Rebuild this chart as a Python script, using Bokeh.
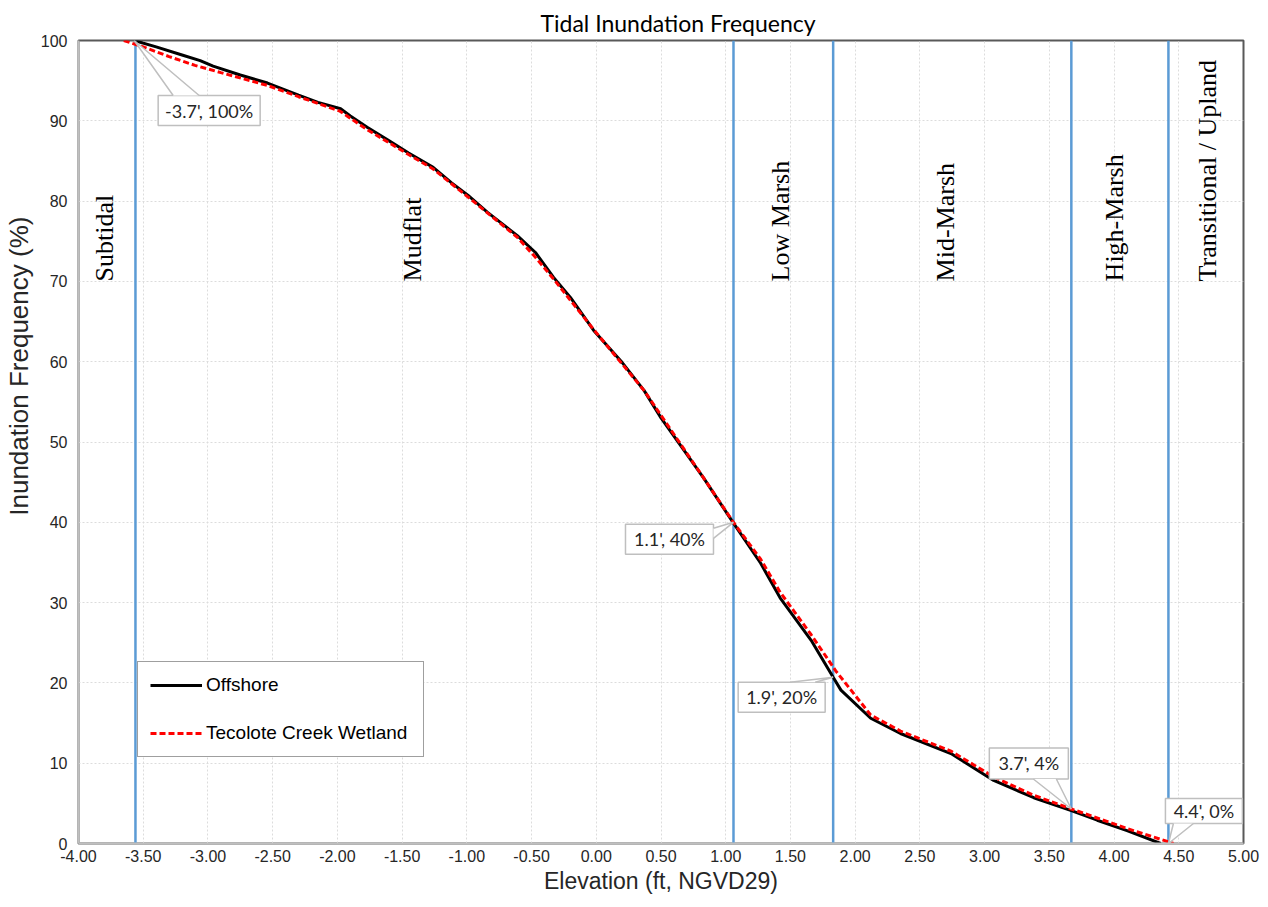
import numpy as np
from bokeh.plotting import figure
from bokeh.models import Range1d, SingleIntervalTicker, NumeralTickFormatter, Legend, LegendItem
from bokeh.core.properties import value
from bokeh.embed import file_html
from bokeh.resources import INLINE

# ---------------- data ----------------
offshore_elev = [-3.57, -3.40, -3.20, -3.06, -2.96, -2.75, -2.54, -2.30, -2.15, -1.975, -1.90, -1.77,
                 -1.60, -1.45, -1.26, -1.12, -0.99, -0.84, -0.61, -0.47, -0.33, -0.20, -0.02, 0.19,
                 0.37, 0.50, 0.83, 1.06, 1.27, 1.42, 1.66, 1.83, 1.89, 2.12, 2.35, 2.74, 3.07, 3.38,
                 3.67, 3.87, 4.10, 4.36]
offshore_freq = [100.0, 99.2, 98.2, 97.5, 96.8, 95.7, 94.7, 93.2, 92.3, 91.5, 90.6, 89.2,
                 87.5, 86.0, 84.2, 82.3, 80.7, 78.6, 75.7, 73.6, 70.5, 68.0, 63.9, 60.1,
                 56.4, 53.0, 45.5, 39.9, 34.9, 30.6, 25.3, 20.7, 19.1, 15.6, 13.7, 11.2, 7.85, 5.7,
                 4.1, 2.9, 1.6, 0.0]

wetland_elev = [-3.65, -3.50, -3.30, -3.10, -2.90, -2.54, -2.30, -1.98, -1.77, -1.45, -1.26, -0.99,
                -0.61, -0.47, -0.33, -0.02, 0.37, 0.83, 1.06, 1.27, 1.42, 1.66, 1.85, 2.12, 2.35,
                2.74, 3.07, 3.38, 3.67, 3.90, 4.15, 4.46]
wetland_freq = [100.0, 99.2, 98.0, 96.9, 96.0, 94.4, 93.0, 91.2, 88.9, 85.8, 84.0, 80.5,
                75.5, 73.0, 70.3, 64.0, 56.4, 45.5, 40.0, 35.4, 31.3, 26.0, 21.5, 16.0, 14.0,
                11.5, 8.3, 6.0, 4.3, 3.0, 1.6, 0.0]

zone_boundaries = [-3.56, 1.06, 1.83, 3.67, 4.42]
zone_names = ["Subtidal", "Mudflat", "Low Marsh", "Mid-Marsh", "High-Marsh", "Transitional / Upland"]
zone_label_x = [-3.80, -1.42, 1.425, 2.70, 4.006, 4.725]
zone_label_y = 70.0

callout_x = [-3.57, 1.06, 1.83, 3.67, 4.42]
callout_y = [100.0, 40.0, 20.7, 4.3, 0.0]
callout_text = ["-3.7', 100%", "1.1', 40%", "1.9', 20%", "3.7', 4%", "4.4', 0%"]
# box offsets from anchor in pixels: left, right, top(down +), bottom(down +)
box_px = [(24, 126, 55, 85), (-108, -20, 2, 32), (-95, -8, 5, 35), (-82, -3, -61, -30), (-3, 74, -45, -20)]
# tail base ends in pixels (x1, y1, x2, y2) relative to anchor
tail_px = [(39, 55, 65, 55), (-20, 6, -20, 16), (-43, 5, -18, 5), (-38, -30, -15, -30), (5, -20, 25, -20)]

x_ticks_fmt = "0.00"
title_text = "Tidal Inundation  Frequency"
x_label = "Elevation (ft, NGVD29)"
y_label = "Inundation Frequency (%)"

# ---------------- figure ----------------
FW, FH = 1165, 803
p = figure(frame_width=FW, frame_height=FH, output_backend="svg", toolbar_location=None,
           x_range=Range1d(-4, 5), y_range=Range1d(0, 100),
           min_border_left=70, min_border_right=20, min_border_top=40, min_border_bottom=5)

ux = 9.0 / FW      # data units per px in x
uy = 100.0 / FH    # data units per px in y

p.title.text = title_text
p.title.align = "left"
p.title.offset = 462
p.title.standoff = 8
p.title.text_font = "Lato"
p.title.text_font_size = "23px"
p.title.text_font_style = "normal"
p.title.text_color = "#000000"

p.xaxis.ticker = SingleIntervalTicker(interval=0.5)
p.yaxis.ticker = SingleIntervalTicker(interval=10)
p.xaxis.formatter = NumeralTickFormatter(format=x_ticks_fmt)
for ax in (p.xaxis, p.yaxis):
    ax.major_tick_line_color = None
    ax.minor_tick_line_color = None
    ax.major_tick_out = 0
    ax.major_tick_in = 0
    ax.minor_tick_out = 0
    ax.axis_line_color = "#bfbfbf"
    ax.axis_line_width = 2
    ax.major_label_text_font = "Liberation Sans"
    ax.major_label_text_font_size = "16px"
    ax.major_label_text_color = "#262626"
    ax.axis_label_text_font = "Liberation Sans"
    ax.axis_label_text_font_style = "normal"
    ax.axis_label_text_color = "#262626"
p.xaxis.axis_label = x_label
p.xaxis.axis_label_text_font_size = "23px"
p.xaxis.major_label_standoff = 6
p.xaxis.axis_label_standoff = 3
# y-axis title sits above the frame centre in the original: pad its start
p.yaxis.axis_label = "\u00a0" * 21 + y_label
p.yaxis.axis_label_text_font_size = "26px"
p.yaxis.major_label_standoff = 11
p.yaxis.axis_label_standoff = 4

p.xgrid.grid_line_color = "#dcdcdc"
p.ygrid.grid_line_color = "#dcdcdc"
p.xgrid.grid_line_dash = "2 2"
p.ygrid.grid_line_dash = "2 2"
p.outline_line_color = "#595959"
p.outline_line_width = 2

# zone boundaries
p.segment(x0=zone_boundaries, y0=[0] * len(zone_boundaries), x1=zone_boundaries,
          y1=[100] * len(zone_boundaries), line_color="#5b9bd5", line_width=2.5)

# zone labels
p.text(x=zone_label_x, y=[zone_label_y] * len(zone_label_x), text=zone_names, angle=np.pi / 2,
       text_align="left", text_baseline="middle", text_font=value("Liberation Serif"),
       text_font_size="26px", text_color="#000000")

# curves
r_off = p.line(offshore_elev, offshore_freq, line_color="black", line_width=3)
r_wet = p.line(wetland_elev, wetland_freq, line_color="#ff0000", line_width=3, line_dash="6 3")

# callouts
tails_x, tails_y = [], []
bl, br, bt, bb, tx, ty = [], [], [], [], [], []
for ax_, ay_, (l, r, t, b), (x1, y1, x2, y2) in zip(callout_x, callout_y, box_px, tail_px):
    bl.append(ax_ + l * ux); br.append(ax_ + r * ux)
    bt.append(ay_ - t * uy); bb.append(ay_ - b * uy)
    tx.append(ax_ + (l + r) / 2 * ux); ty.append(ay_ - (t + b) / 2 * uy)
    tails_x.append([ax_ + x1 * ux, ax_, ax_ + x2 * ux])
    tails_y.append([ay_ - y1 * uy, ay_, ay_ - y2 * uy])
p.quad(left=bl, right=br, top=bt, bottom=bb, fill_color="white", line_color="#bfbfbf", line_width=1.5)
p.patches(xs=tails_x, ys=tails_y, fill_color="white", line_color=None)
p.multi_line(xs=tails_x, ys=tails_y, line_color="#bfbfbf", line_width=1.5)
p.text(x=tx, y=ty, text=callout_text, text_align="center", text_baseline="middle",
       text_font=value("Lato"), text_font_size="18px", text_color="#262626")

legend = Legend(items=[LegendItem(label="Offshore", renderers=[r_off]),
                       LegendItem(label="Tecolote Creek Wetland", renderers=[r_wet])],
                location=(59, 86), orientation="vertical")
legend.border_line_color = "#404040"
legend.border_line_width = 1.5
legend.background_fill_alpha = 1
legend.padding = 12
legend.margin = 0
legend.spacing = 26
legend.glyph_width = 52
legend.glyph_height = 22
legend.label_width = 205
legend.label_standoff = 4
legend.label_text_font = "Liberation Sans"
legend.label_text_font_size = "19px"
legend.label_text_color = "#000000"
p.add_layout(legend, "center")

open("out.html", "w").write(file_html(p, INLINE))
